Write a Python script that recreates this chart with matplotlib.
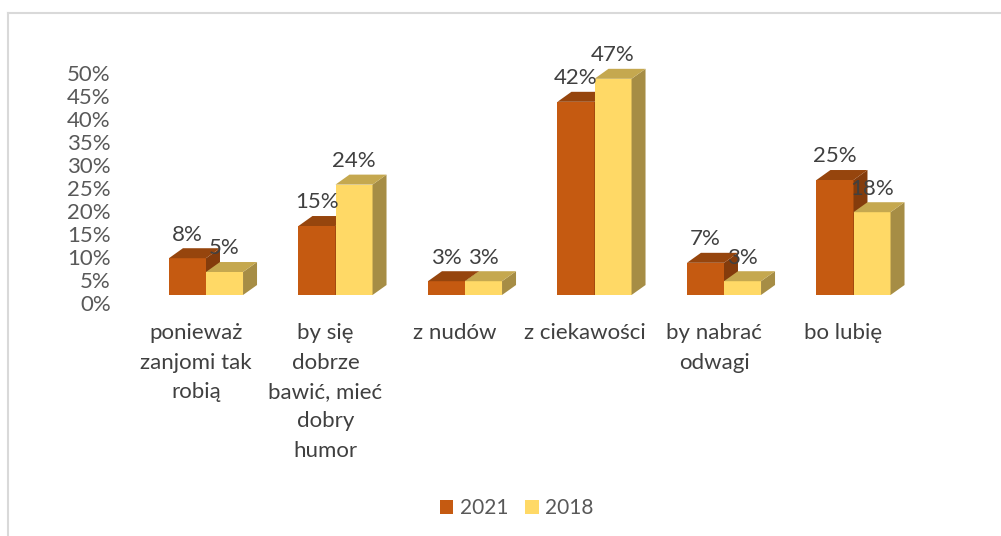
import matplotlib
matplotlib.use("Agg")
import matplotlib.pyplot as plt
from matplotlib.lines import Line2D
from matplotlib.patches import Polygon
from matplotlib.transforms import ScaledTranslation

plt.rcParams["font.family"] = ["Lato", "DejaVu Sans"]

categories = [
    "ponieważ\nzanjomi tak\nrobią",
    "by się\ndobrze\nbawić, mieć\ndobry\nhumor",
    "z nudów",
    "z ciekawości",
    "by nabrać\nodwagi",
    "bo lubię",
]
values_2021 = [8, 15, 3, 42, 7, 25]
values_2018 = [5, 24, 3, 47, 3, 18]
y_ticks = [0, 5, 10, 15, 20, 25, 30, 35, 40, 45, 50]

W, H = 1001, 536
BAR_W = 0.286
DEPTH_X = 0.108   # glebokosc "3D" w jednostkach osi
DEPTH_Y = 2.17
FONT = 16


def draw_series(ax, xs, values, front, top, side):
    bars = ax.bar(xs, values, BAR_W, color=front, linewidth=0, zorder=2)
    for b in bars:
        x0, x1 = b.get_x(), b.get_x() + b.get_width()
        h = b.get_height()
        ax.add_patch(Polygon([(x1, 0), (x1 + DEPTH_X, DEPTH_Y), (x1 + DEPTH_X, h + DEPTH_Y), (x1, h)],
                             facecolor=side, linewidth=0, zorder=2))
        ax.add_patch(Polygon([(x0, h), (x0 + DEPTH_X, h + DEPTH_Y), (x1 + DEPTH_X, h + DEPTH_Y), (x1, h)],
                             facecolor=top, linewidth=0, zorder=2))
        ax.annotate(f"{h}%", (b.get_x() + BAR_W / 2, h), xytext=(0, 17), textcoords="offset points",
                    ha="center", va="center", fontsize=FONT, color="#404040", zorder=5)
    return bars


fig = plt.figure(figsize=(W / 100, H / 100), dpi=100)
ax = fig.add_axes([141.25 / W, 1 - 295 / H, 777 / W, 230 / H])
ax.set_xlim(-0.5, 5.5)
ax.set_ylim(0, 50)
ax.patch.set_alpha(0)
for s in ax.spines.values():
    s.set_visible(False)

pos = list(range(len(categories)))
b1 = draw_series(ax, [p - BAR_W / 2 for p in pos], values_2021, "#C55A11", "#96450D", "#843C0C")
b2 = draw_series(ax, [p + BAR_W / 2 for p in pos], values_2018, "#FFD966", "#C5A84F", "#A68D45")

ax.set_yticks(y_ticks)
ax.set_yticklabels([f"{v}%" for v in y_ticks], fontsize=FONT, color="#595959")
ax.tick_params(axis="y", length=0, pad=22)
ax.set_xticks(pos)
ax.set_xticklabels(categories, fontsize=FONT, color="#404040", linespacing=1.58)
ax.tick_params(axis="x", length=0, pad=20.5)

# podpisy osi sa przesuniete wzgledem slupkow
for lab in ax.get_yticklabels():
    lab.set_transform(lab.get_transform() + ScaledTranslation(0, -8 / 100, fig.dpi_scale_trans))
for lab in ax.get_xticklabels():
    lab.set_transform(lab.get_transform() + ScaledTranslation(-10 / 100, 0, fig.dpi_scale_trans))

fig.legend([b1[0], b2[0]], ["2021", "2018"], loc="center", bbox_to_anchor=(516.5 / W, 1 - 508 / H),
           ncol=2, frameon=False, fontsize=15, labelcolor="#595959",
           handlelength=0.67, handleheight=0.67, handletextpad=0.29, columnspacing=0.82)

# ramka wykresu
fig.add_artist(Line2D([8 / W, 8 / W], [0, 1 - 13 / H], color="#D9D9D9", lw=1.5))
fig.add_artist(Line2D([8 / W, 1], [1 - 13 / H, 1 - 13 / H], color="#D9D9D9", lw=1.5))

fig.savefig("out.png", dpi=100)
